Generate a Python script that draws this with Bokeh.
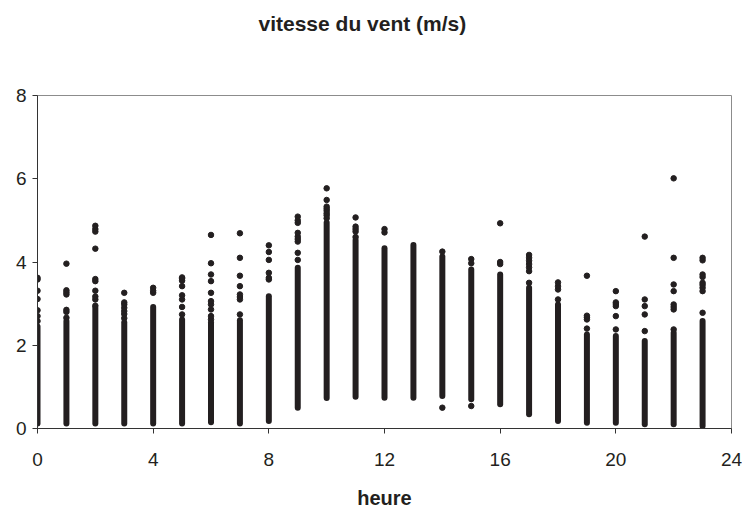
from bokeh.plotting import figure
from bokeh.models import FixedTicker, ColumnDataSource, Range1d, Title
from bokeh.embed import file_html
from bokeh.resources import INLINE

hours = list(range(24))
# dense band of observations for each hour (low, high)
dense_low = [0.12, 0.12, 0.12, 0.12, 0.12, 0.12, 0.15, 0.12, 0.18, 0.50, 0.73, 0.76,
             0.74, 0.74, 0.78, 0.70, 0.58, 0.34, 0.18, 0.14, 0.14, 0.10, 0.10, 0.06]
dense_high = [2.45, 2.58, 2.90, 2.55, 2.92, 2.62, 2.55, 2.60, 3.18, 3.86, 4.95, 4.53,
              4.33, 4.41, 4.13, 3.82, 3.70, 3.38, 2.98, 2.26, 2.22, 2.10, 2.30, 2.58]
# isolated observations
sparse_values = [
    [2.58, 2.70, 2.84, 3.11, 3.31, 3.58, 3.62],
    [2.66, 2.80, 2.85, 3.22, 3.27, 3.32, 3.96],
    [2.95, 3.10, 3.17, 3.31, 3.54, 3.59, 4.32, 4.73, 4.79, 4.87],
    [2.65, 2.75, 2.82, 2.90, 2.98, 3.03, 3.26],
    [3.26, 3.31, 3.38],
    [2.74, 2.92, 3.10, 3.20, 3.42, 3.55, 3.60, 3.63],
    [2.62, 2.70, 2.86, 2.98, 3.06, 3.26, 3.54, 3.70, 3.97, 4.65],
    [2.74, 3.10, 3.16, 3.22, 3.42, 3.67, 4.10, 4.69],
    [3.58, 3.62, 3.74, 4.05, 4.24, 4.40],
    [4.05, 4.22, 4.49, 4.55, 4.61, 4.70, 4.94, 5.00, 5.09],
    [5.05, 5.12, 5.17, 5.23, 5.28, 5.33, 5.49, 5.77],
    [4.60, 4.73, 4.79, 4.85, 5.07],
    [4.71, 4.79],
    [],
    [4.25, 0.50],
    [3.97, 4.07, 0.54],
    [3.95, 4.00, 4.93],
    [3.50, 3.78, 3.87, 3.95, 4.03, 4.10, 4.17],
    [3.10, 3.34, 3.42, 3.51],
    [2.40, 2.62, 2.67, 2.71, 3.67],
    [2.38, 2.70, 2.94, 2.99, 3.03, 3.30],
    [2.34, 2.74, 2.94, 3.10, 4.61],
    [2.38, 2.86, 2.92, 2.98, 3.30, 3.46, 4.10, 6.01],
    [2.78, 3.30, 3.38, 3.45, 3.50, 3.64, 3.70, 4.04, 4.10],
]
x_ticks = [0, 4, 8, 12, 16, 20, 24]
y_ticks = [0, 2, 4, 6, 8]
title_text = "vitesse du vent (m/s)"

INK = "#231f20"
FONT = "Liberation Sans"

p = figure(width=742, height=511, output_backend="svg", toolbar_location=None,
           x_range=Range1d(0, 24), y_range=Range1d(0, 8),
           min_border_left=37, min_border_right=11, min_border_top=95, min_border_bottom=82,
           background_fill_color="white", border_fill_color="white")

band_src = ColumnDataSource(dict(x=hours, y0=dense_low, y1=dense_high))
p.segment(x0="x", y0="y0", x1="x", y1="y1", source=band_src,
          line_color=INK, line_width=6, line_cap="round")

sx, sy = [], []
for h, vals in zip(hours, sparse_values):
    for v in vals:
        sx.append(h)
        sy.append(v)
p.scatter(x=sx, y=sy, marker="circle", size=5.5, fill_color=INK, line_color=INK)

p.grid.visible = False
p.outline_line_color = "#8c8c8c"
p.outline_line_width = 1

for ax, ticks in ((p.xaxis[0], x_ticks), (p.yaxis[0], y_ticks)):
    ax.ticker = FixedTicker(ticks=ticks)
    ax.minor_tick_line_color = None
    ax.major_tick_in = 0
    ax.major_tick_out = 5
    ax.axis_line_color = "#333333"
    ax.major_tick_line_color = "#333333"
    ax.major_label_text_font = FONT
    ax.major_label_text_font_size = "19px"
    ax.major_label_text_color = INK

p.yaxis.major_label_standoff = 6
p.xaxis.major_label_standoff = 19
p.xaxis.axis_label = "heure"
p.xaxis.axis_label_text_font = FONT
p.xaxis.axis_label_text_font_size = "20px"
p.xaxis.axis_label_text_font_style = "bold"
p.xaxis.axis_label_text_color = INK
p.xaxis.axis_label_standoff = 18

# blank spacer between the frame and the chart title
p.add_layout(Title(text=" ", text_font_size="10px", standoff=48), "above")

p.title.text = title_text
p.title.text_font = FONT
p.title.text_font_size = "21px"
p.title.text_font_style = "bold"
p.title.text_color = INK
p.title.align = "left"
p.title.offset = 221
p.title.standoff = 0

open("out.html", "w").write(file_html(p, INLINE))
